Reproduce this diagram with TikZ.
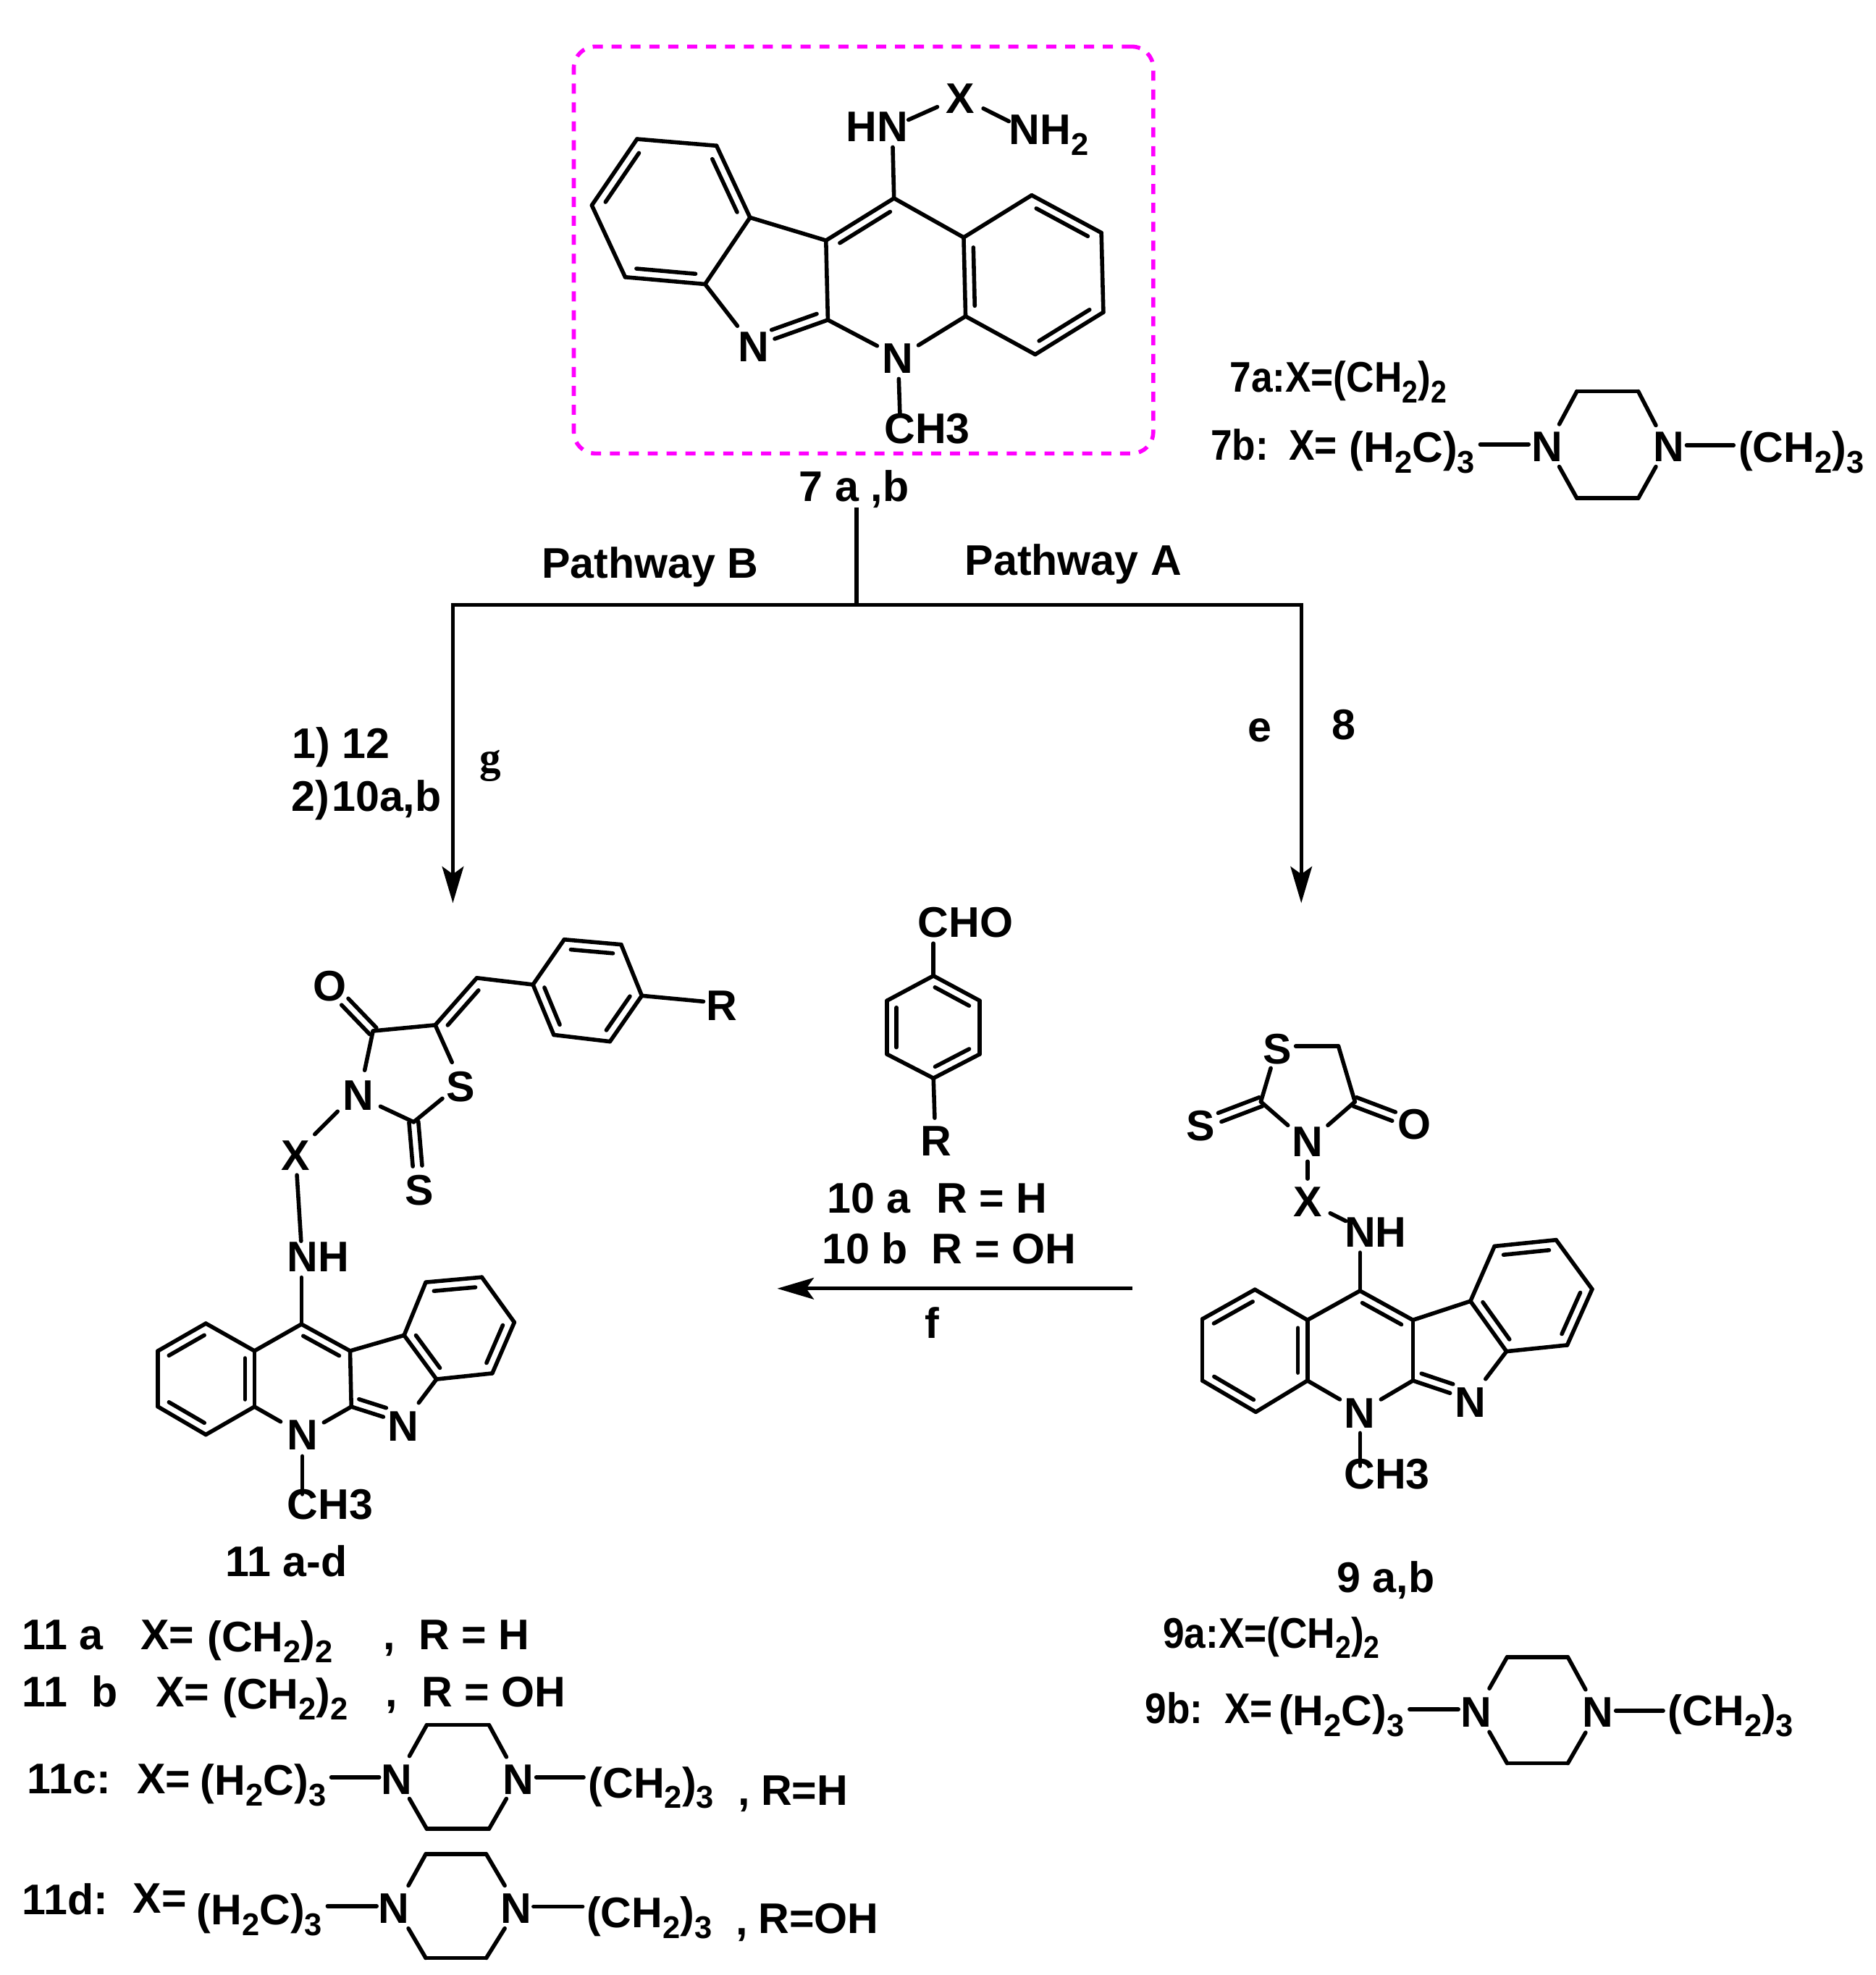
\documentclass[tikz,border=0pt]{standalone}
\usepackage{fontspec}
\usepackage{graphicx}
\usetikzlibrary{calc,arrows.meta}
\setmainfont{Liberation Sans}
\newfontfamily\serifg{Liberation Serif}
\definecolor{boxpink}{HTML}{FF00FF}
\newcommand{\sbs}[1]{\raisebox{-8.5pt}{\fontsize{25}{25}\selectfont #1}}
\newcommand{\nar}[2]{\scalebox{#1}[1]{#2}}
\tikzset{
 bond/.style={line width=3.2pt,line cap=round,line join=round,black},
 flow/.style={line width=3pt,black},
 tip/.style={-{Stealth[length=29pt,width=17pt,inset=6pt]}},
 lab/.style={font=\fontsize{34}{36}\selectfont\bfseries,inner sep=0pt,text height=24.4pt,text depth=0pt,black},
 lbl/.style={lab,anchor=west},
 dashbox/.style={draw=boxpink,line width=3.2pt,dash pattern=on 8pt off 7pt,rounded corners=17pt,minimum width=460pt,minimum height=323pt,inner sep=0pt},
}
\newcommand{\pts}[1]{\foreach \n/\x/\y in {#1}{\coordinate (\n) at (\x,\y);}}
\newcommand{\inr}[2]{\draw[bond] ($(#1)!.13!(#2)!7.5pt!90:(#2)$) -- ($(#2)!.13!(#1)!7.5pt!-90:(#1)$);}
\newcommand{\inrb}[3]{\draw[bond] ($(#1)!#3!90:(#2)$) -- ($(#2)!.15!(#1)!#3!-90:(#1)$);}
\newcommand{\dbl}[2]{\draw[bond] ($(#1)!3.7pt!90:(#2)$) -- ($(#2)!3.7pt!-90:(#1)$);\draw[bond] ($(#1)!3.7pt!-90:(#2)$) -- ($(#2)!3.7pt!90:(#1)$);}
\newcommand{\bonds}[1]{\foreach \p/\q in {#1}{\draw[bond] (\p) -- (\q);}}
\begin{document}
\begin{tikzpicture}[x=1pt,y=-1pt]
\useasboundingbox (0,0) rectangle (1489,1568);
\node[dashbox] (box) at (685.5,198.5) {};
% --- compound 7
\pts{a1/505.7/110.4,a2/568.8/115.7,a3/595.4/172.7,a4/559.7/225.6,a5/496.3/220,a6/469.8/163,
 c1/655.7/190.9,c2/709.7/157.4,c3/765/188.5,c4/766.5/251.1,c5/657.2/254,
 d1/819/155,d2/874.3/184.8,d3/875.9/247.9,d4/821.8/281.4,
 ne/585.4/258.8,nb/615/269,hne/708.7/116.9,nl/696.3/274.6,nr/729.1/274.1,
 nm/713.5/300.8,me/714.4/329.2,hx1/721.2/95.1,hx2/744.1/84.9,xn1/780.6/86.1,xn2/800.9/96.3}
\bonds{a1/a2,a2/a3,a3/a4,a4/a5,a5/a6,a6/a1,a3/c1,c1/c2,c2/c3,c3/c4,c1/c5,c3/d1,d1/d2,d2/d3,d3/d4,d4/c4,a4/ne,c5/nb,c5/nl,c4/nr,nm/me,hne/c2,hx1/hx2,xn1/xn2}
\inr{a1}{a6}\inr{a5}{a4}\inr{a3}{a2}\inr{c2}{c1}\inr{c3}{c4}\inr{d4}{d3}\inr{d2}{d1}
\inrb{nb}{c5}{7.5pt}
\node[lab] (aN1) at (598,275) {N};
\node[lab] (aN2) at (712.8,284.3) {N};
\node[lab] (aCH) at (736,340) {CH3};
\node[lab] (aHN) at (696.3,100.1) {HN};
\node[lab] (aX) at (762,78) {X};
\node[lbl] (aNH) at (801,102.6) {NH\sbs{2}};
\node[lab] (l7) at (678,386) {7 a ,b};
% --- labels 7a/7b
\node[lbl] (t7a) at (976,299) {\nar{.9}{7a:X=(CH\sbs{2})\sbs{2}}};
\node[lbl] (t7b) at (961,353) {\nar{.9}{7b:}};
\node[lbl] (t7x) at (1023,353) {\nar{.9}{X=}};
\node[lbl] (t7h) at (1071,355) {(H\sbs{2}C)\sbs{3}};
\node[lab] (t7n1) at (1228.1,354.1) {N};
\node[lab] (t7n2) at (1324.5,354.1) {N};
\node[lbl] (t7c) at (1380,355) {(CH\sbs{2})\sbs{3}};
\pts{p1/1251.8/310.7,p2/1300.5/310.7,p3/1314.5/337.7,p4/1314.5/370.5,p5/1300.5/395.6,p6/1251.8/395.6,p7/1237.8/370.5,p8/1237.8/336.8,q1/1175.1/352.8,q2/1213.5/352.8,q3/1338.9/353.5,q4/1376.2/353.5}
\bonds{p8/p1,p1/p2,p2/p3,p4/p5,p5/p6,p6/p7,q1/q2,q3/q4}
% --- flow
\pts{top/680/403,j/680/480,jl/359.5/480,jr/1033/480,tl/359.5/717,tr/1033/717,fs/899/1023,fe/617/1023}
\draw[flow] (top) -- (j);
\draw[flow,tip] (j) -- (jl) -- (tl);
\draw[flow,tip] (j) -- (jr) -- (tr);
\draw[flow,tip] (fs) -- (fe);
\node[lab] (pb) at (516,446.5) {Pathway B};
\node[lab] (pa) at (852,444.5) {Pathway A};
\node[lbl] (c12) at (232,590) {1) 12};
\node[lbl] (c10) at (231,632) {2)\kern2pt 10a,b};
\node[lab,font=\fontsize{34}{36}\selectfont\serifg\bfseries,text height=15pt,text depth=0pt] (cg) at (389,605.5) {g};
\node[lab,text height=18pt] (ce) at (1000,580) {e};
\node[lab] (c8) at (1067,575) {8};
\node[lab] (cf) at (740,1050) {f};
% --- reagent 10
\pts{r1/741/774.7,r2/704.2/794.4,r3/704.2/837,r4/741/856,r5/777.6/837,r6/777.6/794.4,cho/741/749,rb/742/887.6}
\bonds{r1/r2,r2/r3,r3/r4,r4/r5,r5/r6,r6/r1,cho/r1,r4/rb}
\inr{r2}{r3}\inr{r4}{r5}\inr{r6}{r1}
\node[lab] (dCHO) at (766.5,732) {CHO};
\node[lab] (dR) at (743,905.6) {R};
\node[lbl] (t10a) at (656.5,951) {10 a};
\node[lbl] (t10ar) at (743,951) {R = H};
\node[lbl] (t10b) at (652.5,991) {10 b};
\node[lbl] (t10br) at (739.5,991) {R = OH};
% --- compound 9
\pts{bS/1014/832.3,bch/1062.5/830.6,bc4/1075.6/874.7,bc2/1000.9/874.7,bs1/1028.6/830.6,bs2/1008.8/848,bn1/1022.4/893.4,bn2/1054.1/893.4,
 bse/968.3/887.1,boe/1106.5/886.4,bx1/1037.9/922.1,bx2/1037.9/935.8,bh1/1056/963.2,bh2/1068.4/969.4,bh3/1079.6/994.4,
 bc/1079.6/1024.8,bcr/1121.6/1048,bc5/1121.6/1096.1,bc3/1037.9/1096.1,bcl/1037.9/1048,
 bb1/996.2/1023.8,bb2/954.5/1047.2,bb3/954.5/1096.1,bb4/996.9/1121,
 be3/1167.3/1033,be4/1195.9/1072.9,bf1/1186.4/989.4,bf2/1235.3/984.4,bf3/1263.9/1023.5,bf4/1244.1/1067.9,
 bn3/1063.6/1111,bn4/1096.3/1111,bne/1151.1/1106,bn5/1179.3/1094.8,bm1/1079.6/1137.7,bm2/1079.6/1163.9}
\bonds{bs1/bch,bch/bc4,bs2/bc2,bc2/bn1,bn2/bc4,bx1/bx2,bh1/bh2,bh3/bc,bc/bcr,bc/bcl,bcl/bc3,bcr/bc5,bcl/bb1,bb1/bb2,bb2/bb3,bb3/bb4,bb4/bc3,bcr/be3,be3/be4,be3/bf1,bf1/bf2,bf2/bf3,bf3/bf4,bf4/be4,be4/bn5,bc3/bn3,bc5/bn4,bc5/bne,bm1/bm2}
\dbl{bc2}{bse}\dbl{bc4}{boe}
\inr{bcr}{bc}\inr{bb1}{bb2}\inr{bb3}{bb4}\inr{bc3}{bcl}\inr{be3}{be4}\inr{bf4}{bf3}\inr{bf2}{bf1}
\inrb{bne}{bc5}{-7.5pt}
\node[lab] (bSl) at (1014,832.3) {S};
\node[lab] (bSx) at (953.3,893.4) {S};
\node[lab] (bO) at (1123,892.2) {O};
\node[lab] (bN) at (1038,905.9) {N};
\node[lab] (bX) at (1038,953.7) {X};
\node[lab] (bNH) at (1092,977.7) {NH};
\node[lab] (bN2) at (1079.6,1121.5) {N};
\node[lab] (bN3) at (1167.3,1112.8) {N};
\node[lab] (bCH) at (1101,1169.6) {CH3};
\node[lab] (l9) at (1100,1252) {9 a,b};
% --- labels 9a/9b
\node[lbl] (t9a) at (923,1296) {\nar{.9}{9a:X=(CH\sbs{2})\sbs{2}}};
\node[lbl] (t9b) at (909,1356) {\nar{.9}{9b:}};
\node[lbl] (t9x) at (972,1356) {\nar{.9}{X=}};
\node[lbl] (t9h) at (1015,1358) {(H\sbs{2}C)\sbs{3}};
\node[lab] (t9n1) at (1171.8,1358.7) {N};
\node[lab] (t9n2) at (1268.6,1358.7) {N};
\node[lbl] (t9c) at (1324,1358) {(CH\sbs{2})\sbs{3}};
\pts{s1/1196.4/1315.6,s2/1244.6/1315.6,s3/1258.7/1341.4,s4/1258.7/1375.5,s5/1244.6/1399.9,s6/1196.4/1399.9,s7/1182.3/1375,s8/1182.3/1340.5,u1/1119/1357.1,u2/1157.7/1357.1,u3/1282.7/1358.1,u4/1320.3/1358.1}
\bonds{s8/s1,s1/s2,s2/s3,s4/s5,s5/s6,s6/s7,u1/u2,u3/u4}
% --- compound 11
\pts{ec4/296.1/818.5,ec5/345.5/813.8,ech/378.5/776.4,g1/423.1/781.7,g2/447.9/745.9,g3/493.1/749.9,g4/509.5/790.5,g5/484.2/826.9,g6/439.6/821.6,
 er/558.4/795.1,es1/358.8/843.4,es2/351.2/872.1,ec2/328.4/890.8,en1/289.5/849.7,en2/302/878.4,eoe/273.8/795.3,ese/331.4/925.7,
 ex1/268/882.4,ex2/249.9/900.5,ex3/235.7/932.9,ex4/239/985.3,eh/239.3/1014.2,
 ec/239.3/1051.3,ecr/277.9/1072.5,ecb/278.9/1116.8,ecc/202/1116.8,ecl/202/1072.5,
 h1/163.4/1050.7,h2/125.4/1072.5,h3/125.4/1116.8,h4/163.4/1139,
 i3/320.8/1060.1,i4/346.5/1095,k1/338/1018,k2/382.5/1014,k3/408.3/1049.8,k4/390.8/1090.3,
 en3/222.8/1128.7,en4/257.1/1129.3,ene/304.3/1124.9,en5/332.4/1113.7,em1/240/1156.1,em2/240/1186.3}
\bonds{ec4/ec5,ec5/ech,ech/g1,g1/g2,g2/g3,g3/g4,g4/g5,g5/g6,g6/g1,g4/er,ec5/es1,es2/ec2,en1/ec4,en2/ec2,ex1/ex2,ex3/ex4,eh/ec,ec/ecr,ec/ecl,ecl/ecc,ecr/ecb,ecl/h1,h1/h2,h2/h3,h3/h4,h4/ecc,ecr/i3,i3/i4,i3/k1,k1/k2,k2/k3,k3/k4,k4/i4,i4/en5,ecc/en3,ecb/en4,ecb/ene,em1/em2}
\dbl{ec4}{eoe}\dbl{ec2}{ese}
\inr{ech}{ec5}\inr{g3}{g2}\inr{g1}{g6}\inr{g5}{g4}
\inr{ecr}{ec}\inr{h1}{h2}\inr{h3}{h4}\inr{ecc}{ecl}\inr{i3}{i4}\inr{k4}{k3}\inr{k2}{k1}
\inrb{ene}{ecb}{-7.5pt}
\node[lab] (eO) at (261.9,782.7) {O};
\node[lab] (eR) at (573.1,798.2) {R};
\node[lab] (eS) at (365.9,862.1) {S};
\node[lab] (eN) at (284.3,869.3) {N};
\node[lab] (eSx) at (332.9,944.7) {S};
\node[lab] (eX) at (234.5,916.7) {X};
\node[lab] (eNH) at (252.7,997.2) {NH};
\node[lab] (eN2) at (240,1139) {N};
\node[lab] (eN3) at (320,1131.8) {N};
\node[lab] (eCH) at (262,1194) {CH3};
\node[lab] (l11) at (227.5,1239.5) {11 a-d};
% --- labels 11
\node[lbl] (ta1) at (17.5,1297.5) {11 a};
\node[lbl] (ta2) at (111.5,1297.5) {X=};
\node[lbl] (ta3) at (164.5,1299) {(CH\sbs{2})\sbs{2}};
\node[lbl] (ta4) at (304,1297.5) {,};
\node[lbl] (ta5) at (332.5,1297.5) {R = H};
\node[lbl] (tb1) at (17.5,1343) {11\ \ b};
\node[lbl] (tb2) at (123.5,1343) {X=};
\node[lbl] (tb3) at (176.5,1344.5) {(CH\sbs{2})\sbs{2}};
\node[lbl] (tb4) at (306,1343) {,};
\node[lbl] (tb5) at (334.5,1343) {R = OH};
\node[lbl] (tc1) at (21.5,1412) {11c:};
\node[lbl] (tc2) at (108.5,1412) {X=};
\node[lbl] (tc3) at (159,1413) {(H\sbs{2}C)\sbs{3}};
\node[lab] (tcn1) at (315,1412.5) {N};
\node[lab] (tcn2) at (411.2,1412.5) {N};
\node[lbl] (tc4) at (467,1415) {(CH\sbs{2})\sbs{3}};
\node[lbl] (tc5) at (586,1421) {,};
\node[lbl] (tc6) at (604,1421) {R=H};
\pts{v1/338.8/1369.5,v2/388.2/1369.5,v3/402/1394.9,v4/402/1428,v5/388.2/1452,v6/338.8/1452,v7/325/1428,v8/325/1394.2,w1/263/1411,w2/301/1411,w3/425.7/1411,w4/463.3/1411}
\bonds{v8/v1,v1/v2,v2/v3,v4/v5,v5/v6,v6/v7,w1/w2,w3/w4}
\node[lbl] (td1) at (17.5,1508) {11d:};
\node[lbl] (td2) at (105.5,1506.5) {X=};
\node[lbl] (td3) at (156,1516) {(H\sbs{2}C)\sbs{3}};
\node[lab] (tdn1) at (312.8,1514.8) {N};
\node[lab] (tdn2) at (410,1514.8) {N};
\node[lbl] (td4) at (465.5,1518) {(CH\sbs{2})\sbs{3}};
\node[lbl] (td5) at (584,1524) {,};
\node[lbl] (td6) at (602,1523) {R=OH};
\pts{y1/338/1472,y2/386/1472,y3/400.7/1497,y4/400.7/1531,y5/386/1554.5,y6/338/1554.5,y7/324.2/1531,y8/324.2/1497,z1/260/1513.3,z2/299/1513.3,z3/423.5/1513.6,z4/462.5/1513.6}
\bonds{y8/y1,y1/y2,y2/y3,y4/y5,y5/y6,y6/y7,z1/z2,z3/z4}
\end{tikzpicture}
\end{document}
